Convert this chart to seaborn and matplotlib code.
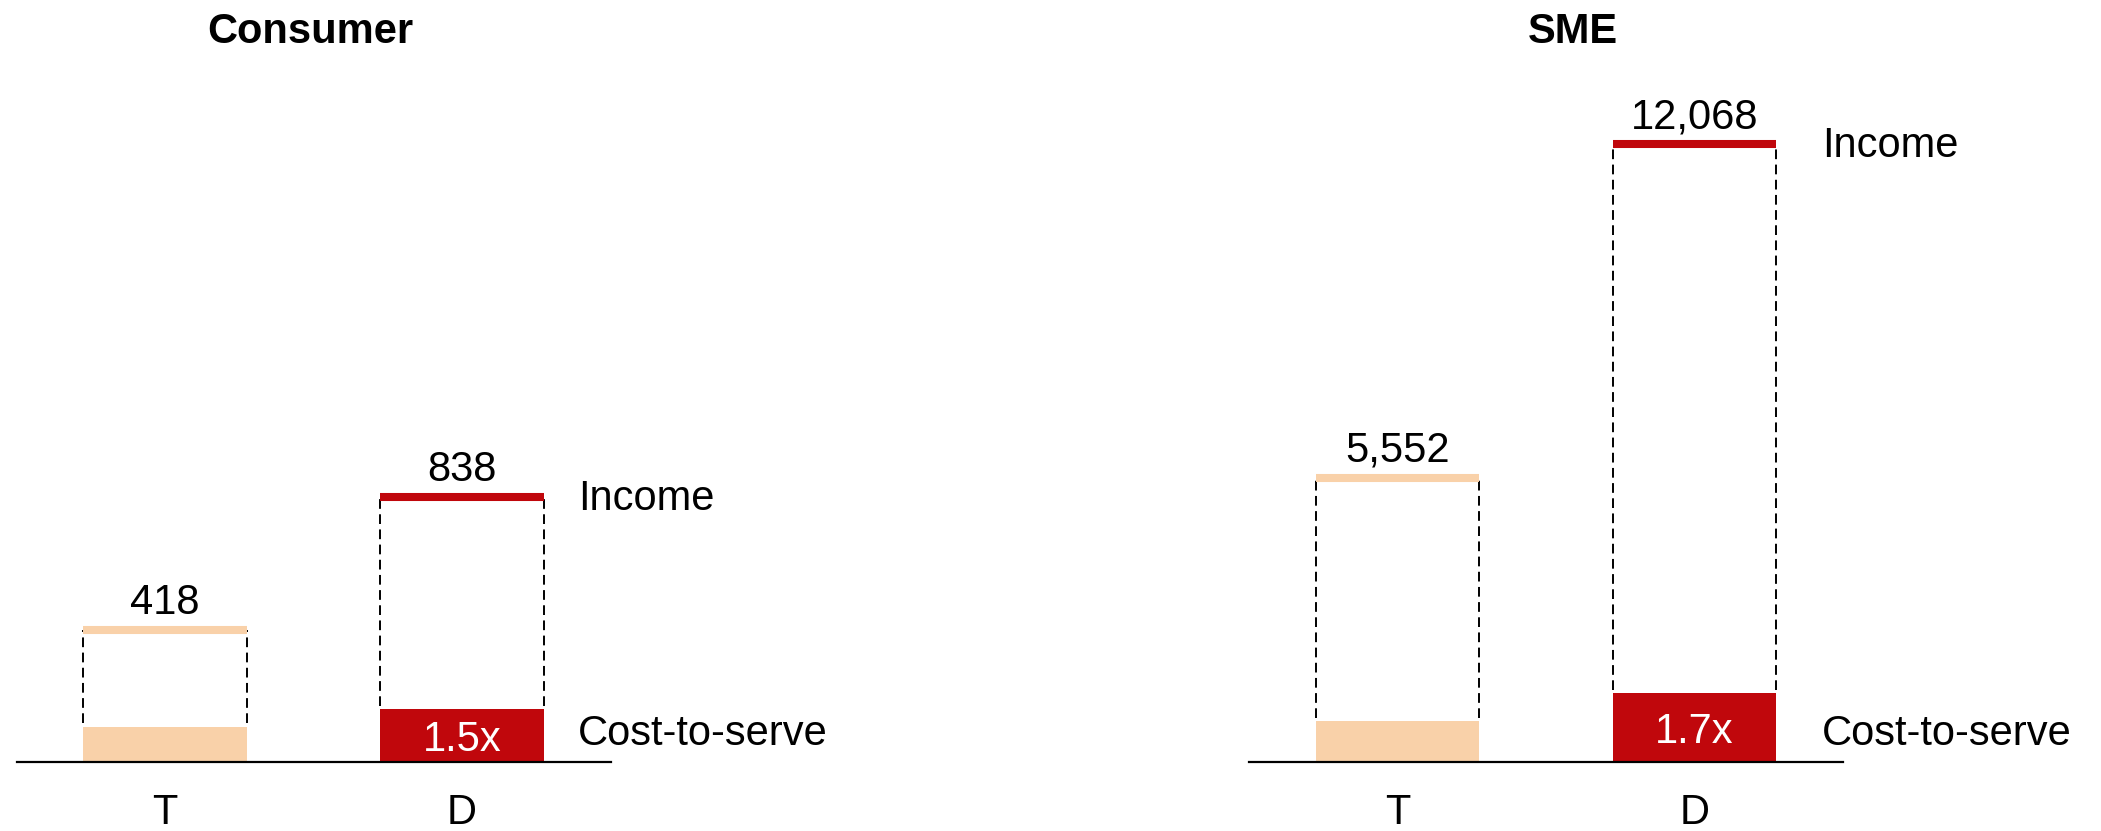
import matplotlib
matplotlib.use("Agg")
import matplotlib.pyplot as plt
import seaborn as sns

# ---- data ----
categories = ["T", "D"]
panel_titles = ["Consumer", "SME"]
consumer_income = [418, 838]
consumer_cost = [111, 167]
sme_income = [5552, 12068]
sme_cost = [790, 1343]
consumer_multiple = ["", "1.5x"]
sme_multiple = ["", "1.7x"]
income_label = "Income"
cost_label = "Cost-to-serve"
bar_colors = ["#F9D1A9", "#C0070C"]

sns.set_style("white")
plt.rcParams["font.family"] = ["Liberation Sans", "DejaVu Sans"]
plt.rcParams["text.color"] = "black"
plt.rcParams["xtick.color"] = "black"
plt.rcParams["axes.labelcolor"] = "black"
FS = 30

W, H = 2101, 831
fig = plt.figure(figsize=(W / 100, H / 100), dpi=100)

panels = [
    dict(title=panel_titles[0], income=consumer_income, cost=consumer_cost,
         mult=consumer_multiple, left=16.5, ymax=2158, lab_x=1.39, title_x=310),
    dict(title=panel_titles[1], income=sme_income, cost=sme_cost,
         mult=sme_multiple, left=1249, ymax=13327, lab_x=1.43, title_x=1573),
]

bw = 0.55
for p in panels:
    ax = fig.add_axes([p["left"] / W, 69.3 / H, 594 / W, 681.7 / H])
    sns.barplot(x=categories, y=p["cost"], hue=categories, palette=bar_colors,
                width=bw, saturation=1, linewidth=0, legend=False, ax=ax)
    for i, (inc, cst, col) in enumerate(zip(p["income"], p["cost"], bar_colors)):
        ax.vlines([i - bw / 2, i + bw / 2], cst + 0.005 * p["ymax"], inc,
                  colors="black", linewidth=1.4, linestyles=(0, (5, 2.8)), zorder=2)
        ax.hlines(inc, i - bw / 2, i + bw / 2, colors=col, linewidth=5.8,
                  capstyle="butt", zorder=3)
        ax.annotate(f"{inc:,}", (i, inc), xytext=(0, 11.5), textcoords="offset points",
                    ha="center", va="baseline", fontsize=FS, color="black")
        if p["mult"][i]:
            ax.annotate(p["mult"][i], (i, cst / 2), xytext=(0, -11), textcoords="offset points",
                        ha="center", va="baseline", fontsize=FS, color="white", zorder=4)
    ax.annotate(income_label, (p["lab_x"], p["income"][-1]), xytext=(0, -9.4),
                textcoords="offset points", ha="left", va="baseline", fontsize=FS,
                color="black", annotation_clip=False)
    ax.annotate(cost_label, (p["lab_x"], 0), xytext=(0, 12),
                textcoords="offset points", ha="left", va="baseline", fontsize=FS,
                color="black", annotation_clip=False)
    ax.set_xlim(-0.5, 1.5)
    ax.set_ylim(0, p["ymax"])
    ax.set_yticks([])
    ax.set_xlabel("")
    ax.set_ylabel("")
    for s in ["left", "right", "top"]:
        ax.spines[s].set_visible(False)
    ax.spines["bottom"].set_linewidth(1.6)
    ax.spines["bottom"].set_color("black")
    ax.tick_params(axis="x", length=0, pad=22.5, labelsize=FS, colors="black")
    ax.patch.set_alpha(0)
    fig.text(p["title_x"] / W, 1 - 43 / H, p["title"], ha="center", va="baseline",
             fontsize=FS, fontweight="bold", color="black")

fig.savefig("out.png", dpi=100)
